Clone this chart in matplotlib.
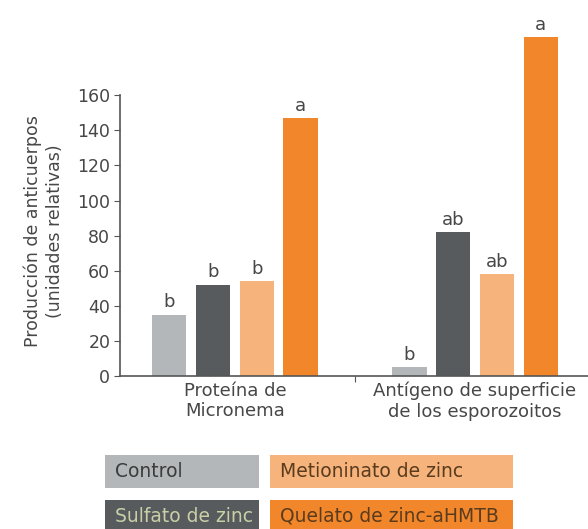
import numpy as np
import matplotlib.pyplot as plt
from matplotlib.patches import Rectangle

plt.rcParams['font.family'] = ['DejaVu Sans']

grupos = ['Proteína de\nMicronema', 'Antígeno de superficie\nde los esporozoitos']
tratamientos = ['Control', 'Sulfato de zinc', 'Metioninato de zinc', 'Quelato de zinc-aHMTB']
colores = ['#b3b7ba', '#585b5e', '#f6b47c', '#f1872a']

# produccion por tratamiento, una lista por grupo
micronema = [35, 52, 54, 147]
antigeno = [5, 82, 58, 193]
letras_micronema = ['b', 'b', 'b', 'a']
letras_antigeno = ['b', 'ab', 'ab', 'a']

valores = np.array([micronema, antigeno])
letras = [letras_micronema, letras_antigeno]

W, H = 588, 529
fig = plt.figure(figsize=(W / 100, H / 100), dpi=100)
fig.patch.set_facecolor('white')
ax = fig.add_axes([120 / W, (H - 376) / H, 470 / W, 351 / H])

texto = '#474747'
x = np.arange(len(grupos))
paso = 0.182
ancho = 0.142
for i, trat in enumerate(tratamientos):
    xs = x + (i - 1.5) * paso
    ax.bar(xs, valores[:, i], width=ancho, color=colores[i], edgecolor='none')
    for j in range(len(grupos)):
        ax.text(xs[j], valores[j, i] + 2, letras[j][i], ha='center', va='bottom',
                fontsize=13, color=texto)

ax.set_xlim(-0.479, 1.479)
ax.set_ylim(0, 200)
ax.set_yticks(range(0, 161, 20))
ax.spines['left'].set_bounds(0, 160)
for s in ['top', 'right']:
    ax.spines[s].set_visible(False)
for s in ['left', 'bottom']:
    ax.spines[s].set_color('#555555')
    ax.spines[s].set_linewidth(1.2)

# un solo tick entre los grupos, etiquetas de grupo sin tick
ax.set_xticks([0.5])
ax.set_xticklabels([''])
ax.set_xticks(x, minor=True)
ax.set_xticklabels(grupos, minor=True, fontsize=13, color=texto, linespacing=1.2)
ax.tick_params(axis='x', which='minor', length=0, pad=4)
ax.tick_params(axis='x', which='major', length=4, color='#555555')
ax.tick_params(axis='y', length=4, color='#555555', labelsize=12.5, labelcolor=texto, pad=3)

ax.set_ylabel('Producción de anticuerpos\n(unidades relativas)', fontsize=12.5,
              color=texto, linespacing=1.25)
ax.yaxis.set_label_coords(-0.12, 0.413)

# leyenda en cajas de color
cajas = [(105, 455, 154, 33), (105, 500, 154, 33), (270, 455, 243, 33), (270, 500, 243, 33)]
color_letra = ['#3c3c3c', '#c9cfa6', '#5a3b1e', '#5a3b1e']
for i, (bx, by, bw, bh) in enumerate(cajas):
    fig.patches.append(Rectangle((bx / W, 1 - (by + bh) / H), bw / W, bh / H,
                                 transform=fig.transFigure, facecolor=colores[i],
                                 edgecolor='none'))
    fig.text((bx + 10) / W, 1 - (by + bh / 2) / H, tratamientos[i], ha='left',
             va='center', fontsize=13.5, color=color_letra[i])

fig.savefig('out.png', dpi=100)
